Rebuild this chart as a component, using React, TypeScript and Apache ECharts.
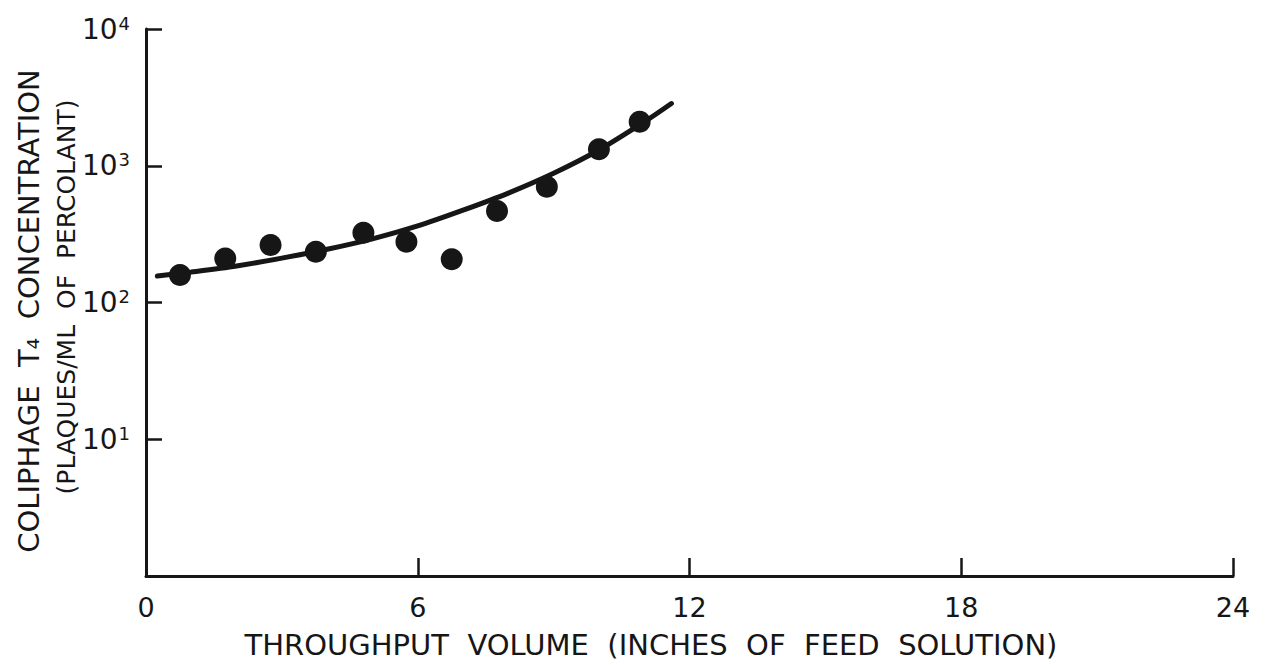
import React, { useEffect, useRef } from "react";
import * as echarts from "echarts";

// Measured dots (throughput volume, inches ; concentration, plaques/ml)
const pointX = [0.75, 1.75, 2.75, 3.75, 4.8, 5.75, 6.75, 7.75, 8.85, 10, 10.9];
const pointY = [159, 210, 263, 235, 324, 278, 207, 467, 703, 1319, 2100];

// Hand-drawn fitted curve
const curveX = [0.25, 1, 2, 3, 4, 5, 6, 7, 8, 9, 10, 11, 11.6];
const curveY = [156, 167, 185, 211, 245, 292, 363, 473, 631, 881, 1303, 2089, 2851];

// Axis ticks
const xTicks = [0, 6, 12, 18, 24];
const yDecades = [1, 10, 100, 1000, 10000];

const xTitle = "THROUGHPUT  VOLUME  (INCHES  OF  FEED  SOLUTION)";
const yTitle1 = "COLIPHAGE  T\u2084  CONCENTRATION";
const yTitle2 = "(PLAQUES/ML  OF  PERCOLANT)";

const INK = "#161616";
const FONT = "'DejaVu Sans', 'Liberation Sans', sans-serif";

export default function App() {
  const ref = useRef<HTMLDivElement>(null);

  useEffect(() => {
    document.body.style.margin = "0";
    const chart = echarts.init(ref.current!, null, { renderer: "svg" });
    const option: any = {
      animation: false,
      backgroundColor: "#ffffff",
      grid: { left: 146, right: 39, top: 29, bottom: 89, containLabel: false },
      xAxis: {
        type: "value",
        min: xTicks[0],
        max: xTicks[xTicks.length - 1],
        interval: xTicks[1] - xTicks[0],
        axisLine: { show: true, lineStyle: { color: INK, width: 3 } },
        axisTick: { show: true, inside: true, length: 18, lineStyle: { color: INK, width: 2.5 } },
        splitLine: { show: false },
        axisLabel: {
          color: INK,
          fontFamily: FONT,
          fontSize: 27,
          margin: 18,
        },
      },
      yAxis: {
        type: "log",
        logBase: 10,
        min: yDecades[0],
        max: yDecades[yDecades.length - 1],
        axisLine: { show: true, lineStyle: { color: INK, width: 3 } },
        axisTick: { show: true, inside: true, length: 16, lineStyle: { color: INK, width: 2.5 } },
        splitLine: { show: false },
        minorTick: { show: false },
        axisLabel: {
          margin: 16,
          formatter: (v: number) => {
            if (v <= 1) return "";
            const e = Math.round(Math.log10(v));
            return `{b|10}{s|${e}}`;
          },
          rich: {
            b: { fontFamily: FONT, fontSize: 28, color: INK, lineHeight: 30 },
            s: { fontFamily: FONT, fontSize: 18, color: INK, verticalAlign: "top", lineHeight: 30, padding: [0, 0, 8, 1] },
          },
        },
      },
      series: [
        {
          type: "line",
          data: curveX.map((x, i) => [x, curveY[i]]),
          smooth: 0.3,
          showSymbol: false,
          lineStyle: { color: INK, width: 5, cap: "round" },
          z: 2,
        },
        {
          type: "scatter",
          data: pointX.map((x, i) => [x, pointY[i]]),
          symbol: "circle",
          symbolSize: 22,
          itemStyle: { color: INK, opacity: 1 },
          z: 3,
        },
      ],
      graphic: [
        {
          type: "text",
          x: 651,
          y: 645,
          style: {
            text: xTitle,
            fontFamily: FONT,
            fontSize: 29,
            fill: INK,
            align: "center",
            verticalAlign: "middle",
          },
        },
        {
          type: "text",
          x: 29,
          y: 311,
          rotation: Math.PI / 2,
          style: {
            text: yTitle1,
            fontFamily: FONT,
            fontSize: 29,
            fill: INK,
            align: "center",
            verticalAlign: "middle",
          },
        },
        {
          type: "text",
          x: 66,
          y: 297,
          rotation: Math.PI / 2,
          style: {
            text: yTitle2,
            fontFamily: FONT,
            fontSize: 25,
            fill: INK,
            align: "center",
            verticalAlign: "middle",
          },
        },
      ],
    };
    chart.setOption(option);
    return () => chart.dispose();
  }, []);

  return (
    <div
      ref={ref}
      style={{ position: "absolute", left: 0, top: 0, width: 1272, height: 665, background: "#fff" }}
    />
  );
}
